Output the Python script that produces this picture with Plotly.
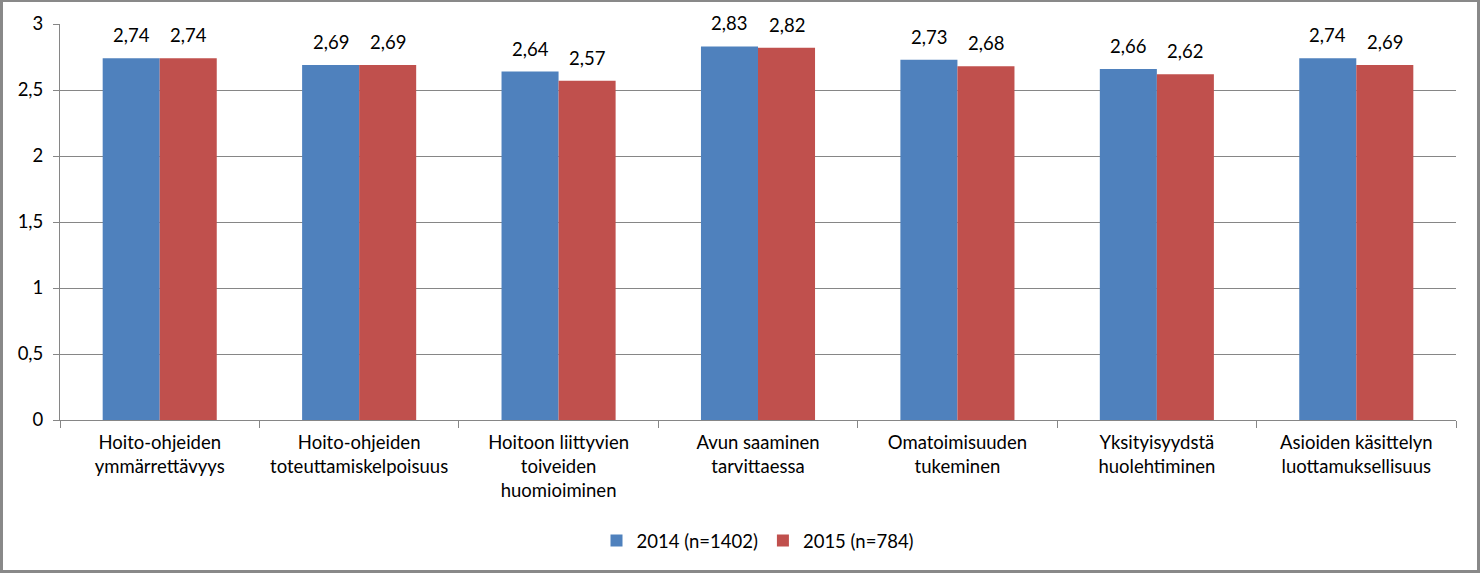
import plotly.graph_objects as go

categories = [
    "Hoito-ohjeiden<br>ymmärrettävyys",
    "Hoito-ohjeiden<br>toteuttamiskelpoisuus",
    "Hoitoon liittyvien<br>toiveiden<br>huomioiminen",
    "Avun saaminen<br>tarvittaessa",
    "Omatoimisuuden<br>tukeminen",
    "Yksityisyydstä<br>huolehtiminen",
    "Asioiden käsittelyn<br>luottamuksellisuus",
]
series_names = ["2014 (n=1402)", "2015 (n=784)"]
values_2014 = [2.74, 2.69, 2.64, 2.83, 2.73, 2.66, 2.74]
values_2015 = [2.74, 2.69, 2.57, 2.82, 2.68, 2.62, 2.69]
y_ticks = [0, 0.5, 1, 1.5, 2, 2.5, 3]

W, H = 1480, 573
ML, MR, MT, MB = 60, 24, 24, 153
PW, PH = W - ML - MR, H - MT - MB
FONT = "Lato, Open Sans, sans-serif"
FS = 18.5
BARGAP = 0.428
half_bar = PW / len(categories) * (1 - BARGAP) / 4

fig = go.Figure()
for name, vals, col in [(series_names[0], values_2014, "#4F81BD"),
                        (series_names[1], values_2015, "#C0504D")]:
    fig.add_trace(go.Bar(
        x=categories, y=vals, name=name, marker=dict(color=col, line=dict(width=0)),
    ))

for vals, sh in [(values_2014, -half_bar), (values_2015, half_bar)]:
    for c, v in zip(categories, vals):
        fig.add_annotation(x=c, y=v, xref="x", yref="y", text=f"{v:.2f}".replace(".", ","),
                           showarrow=False, xshift=sh, yanchor="bottom", yshift=10,
                           font=dict(size=FS, color="black", family=FONT))

fig.update_layout(
    width=W, height=H,
    margin=dict(l=ML, r=MR, t=MT, b=MB, pad=0, autoexpand=False),
    paper_bgcolor="white", plot_bgcolor="white",
    separators=", ",
    barmode="group", bargap=BARGAP, bargroupgap=0,
    font=dict(family=FONT, size=FS, color="black"),
    showlegend=True,
    legend=dict(orientation="h", x=0.5, xanchor="center", y=-(541 - 420) / PH,
                yanchor="middle",
                font=dict(size=FS, family=FONT), traceorder="normal"),
    xaxis=dict(showgrid=False, showline=True, linecolor="#868686", linewidth=1,
               ticks="outside", ticklen=7, tickcolor="#868686", tickson="boundaries",
               ticklabelstandoff=6,
               tickfont=dict(size=FS, family=FONT)),
    yaxis=dict(range=[0, 3], tickvals=y_ticks, showgrid=True, gridcolor="#868686",
               gridwidth=1, showline=True, linecolor="#868686", linewidth=1,
               ticks="outside", ticklen=6, tickcolor="#868686", zeroline=False,
               ticklabelstandoff=6,
               tickfont=dict(size=FS, family=FONT)),
)

# outer chart border (paper coordinates relative to plot area)
fig.add_shape(type="rect", xref="paper", yref="paper",
              x0=(-ML + 1.5) / PW, x1=(W - ML - 1.5) / PW,
              y0=(-MB + 1.5) / PH, y1=(H - MB - 0.5) / PH,
              line=dict(color="#898989", width=3), layer="above")

fig.write_html("out.html")
